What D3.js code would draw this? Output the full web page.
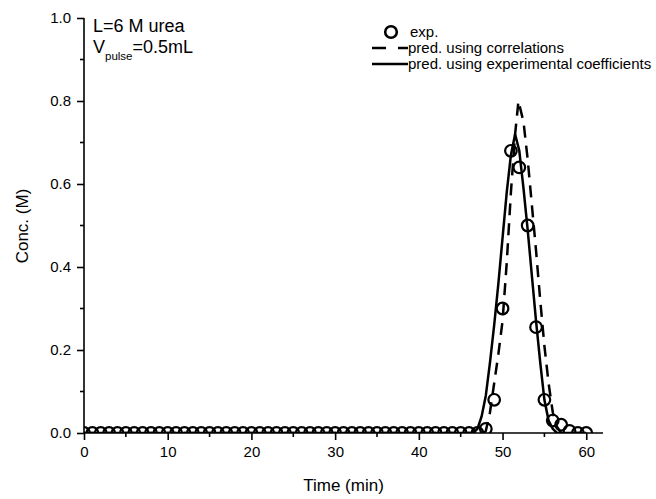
<!DOCTYPE html>
<html>
<head>
<meta charset="utf-8">
<title>pulse</title>
<script src="https://cdn.jsdelivr.net/npm/d3@7"></script>
<style>
	body{margin:0;background:#fff;}
	text{font-family:Arial,"Liberation Sans",sans-serif;fill:#000;}
</style>
</head>
<body>
<script>
// experimental points, one per minute
var expTime=d3.range(0,61);
var expConc=[0,0,0,0,0,0,0,0,0,0, 0,0,0,0,0,0,0,0,0,0,
	0,0,0,0,0,0,0,0,0,0, 0,0,0,0,0,0,0,0,0,0,
	0,0,0,0,0,0,0,0,0.01,0.08, 0.30,0.68,0.64,0.50,0.255,0.08,0.03,0.02,0.005,0, 0];
// pred. using correlations (dashed)
var corrTime=[0,47.8,48,48.5,49,49.5,50,50.5,51,51.5,51.9,52.5,53,53.5,54,54.5,55,55.5,56,56.5,57,60];
var corrConc=[0,0,0.005,0.05,0.12,0.19,0.27,0.41,0.58,0.72,0.80,0.75,0.66,0.55,0.44,0.32,0.21,0.12,0.05,0.015,0,0];
// pred. using experimental coefficients (solid)
var coefTime=[0,46.5,47,47.5,48,48.5,49,49.5,50,50.5,51,51.5,52,52.5,53,53.5,54,54.5,55,55.5,56,56.5,60];
var coefConc=[0,0,0.01,0.04,0.09,0.17,0.26,0.36,0.47,0.58,0.67,0.72,0.68,0.59,0.49,0.38,0.27,0.17,0.08,0.03,0.01,0,0];

var xTicks=[0,10,20,30,40,50,60],
	yTicks=[0,0.2,0.4,0.6,0.8,1.0];

var width=656,height=499,
	pLeft=84,pRight=603,pTop=18,pBottom=433;

var svg=d3.select("body").append("svg")
	.attr("width",width).attr("height",height);

var x=d3.scaleLinear().domain([0,62]).range([pLeft,pRight]);
var y=d3.scaleLinear().domain([0,1]).range([pBottom,pTop]);

svg.append("clipPath").attr("id","plot")
	.append("rect").attr("x",pLeft).attr("y",pTop-2)
	.attr("width",pRight-pLeft).attr("height",pBottom-pTop+2);

var g=svg.append("g").attr("clip-path","url(#plot)");

function pts(t,c){
	return t.map(function(d,i){return [d,c[i]];});
}
var line=d3.line()
	.x(function(d){return x(d[0]);})
	.y(function(d){return y(d[1]);});

g.append("path").datum(pts(corrTime,corrConc))
	.attr("d",line).attr("fill","none")
	.attr("stroke","#000").attr("stroke-width",2.5)
	.attr("stroke-dasharray","12,8");
g.append("path").datum(pts(coefTime,coefConc))
	.attr("d",line).attr("fill","none")
	.attr("stroke","#000").attr("stroke-width",2.5);

g.selectAll("circle").data(pts(expTime,expConc))
	.enter().append("circle")
	.attr("cx",function(d){return x(d[0]);})
	.attr("cy",function(d){return y(d[1]);})
	.attr("r",5.8)
	.attr("fill","none").attr("stroke","#000").attr("stroke-width",2.2);

// axes
var xAxis=d3.axisBottom(x).tickValues(xTicks).tickSize(7).tickPadding(6).tickFormat(d3.format("d"));
var yAxis=d3.axisLeft(y).tickValues(yTicks).tickSize(7).tickPadding(6).tickFormat(d3.format(".1f"));

var gx=svg.append("g").attr("transform","translate(0,"+pBottom+")").call(xAxis);
var gy=svg.append("g").attr("transform","translate("+pLeft+",0)").call(yAxis);
[gx,gy].forEach(function(a){
	a.select(".domain").remove();
	a.selectAll("line").attr("stroke","#000").attr("stroke-width",1.6);
	a.selectAll("text").attr("font-size",15).attr("font-family","Arial, 'Liberation Sans', sans-serif");
});
gx.append("line").attr("x1",pLeft).attr("x2",pRight).attr("stroke","#000").attr("stroke-width",1.6);
gy.append("line").attr("y1",pBottom+0.8).attr("y2",pTop).attr("stroke","#000").attr("stroke-width",1.6);

// minor ticks
svg.append("g").selectAll("line").data([5,15,25,35,45,55]).enter().append("line")
	.attr("x1",function(d){return x(d);}).attr("x2",function(d){return x(d);})
	.attr("y1",pBottom).attr("y2",pBottom+4)
	.attr("stroke","#000").attr("stroke-width",1.6);
svg.append("g").selectAll("line").data([0.1,0.3,0.5,0.7,0.9]).enter().append("line")
	.attr("y1",function(d){return y(d);}).attr("y2",function(d){return y(d);})
	.attr("x1",pLeft-4).attr("x2",pLeft)
	.attr("stroke","#000").attr("stroke-width",1.6);

// axis titles
svg.append("text").attr("x",(pLeft+pRight)/2).attr("y",491)
	.attr("text-anchor","middle").attr("font-size",17).text("Time (min)");
svg.append("text").attr("transform","translate(28,226) rotate(-90)")
	.attr("text-anchor","middle").attr("font-size",17).text("Conc. (M)");

// annotation
svg.append("text").attr("x",93).attr("y",32).attr("font-size",18).text("L=6 M urea");
var v=svg.append("text").attr("x",93).attr("y",53).attr("font-size",18);
v.append("tspan").text("V");
v.append("tspan").attr("font-size",11.5).attr("dy",7).text("pulse");
v.append("tspan").attr("dy",-7).text("=0.5mL");

// legend
var lg=svg.append("g");
lg.append("circle").attr("cx",391).attr("cy",32).attr("r",5.8)
	.attr("fill","none").attr("stroke","#000").attr("stroke-width",2.6);
lg.append("line").attr("x1",372).attr("x2",408).attr("y1",48).attr("y2",48)
	.attr("stroke","#000").attr("stroke-width",2.5).attr("stroke-dasharray","14,12");
lg.append("line").attr("x1",372).attr("x2",408).attr("y1",64).attr("y2",64)
	.attr("stroke","#000").attr("stroke-width",2.5);
var labels=["exp.","pred. using correlations","pred. using experimental coefficients"];
lg.selectAll("text.lab").data(labels).enter().append("text")
	.attr("class","lab")
	.attr("x",function(d,i){return i==0?410:408;})
	.attr("y",function(d,i){return 37+i*16;})
	.attr("font-size",15).text(function(d){return d;});
</script>
</body>
</html>
